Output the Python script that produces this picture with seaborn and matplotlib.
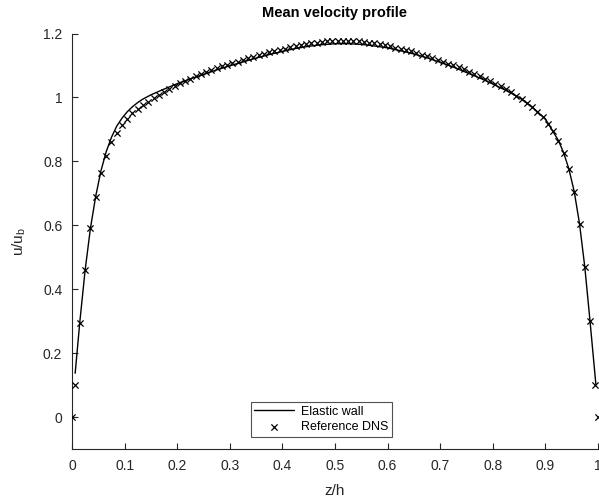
import matplotlib
matplotlib.use("Agg")
import matplotlib.pyplot as plt
import seaborn as sns
import pandas as pd

# Reference DNS samples
dns_z = [0.0, 0.005, 0.015, 0.025, 0.035, 0.045, 0.055, 0.065, 0.075, 0.085, 0.095,
         0.105, 0.115, 0.125, 0.135, 0.145, 0.155, 0.165, 0.175, 0.185, 0.195,
         0.205, 0.215, 0.225, 0.235, 0.245, 0.255, 0.265, 0.275, 0.285, 0.295,
         0.305, 0.315, 0.325, 0.335, 0.345, 0.355, 0.365, 0.375, 0.385, 0.395,
         0.405, 0.415, 0.425, 0.435, 0.445, 0.455, 0.465, 0.475, 0.485, 0.495,
         0.505, 0.515, 0.525, 0.535, 0.545, 0.555, 0.565, 0.575, 0.585, 0.595,
         0.605, 0.615, 0.625, 0.635, 0.645, 0.655, 0.665, 0.675, 0.685, 0.695,
         0.705, 0.715, 0.725, 0.735, 0.745, 0.755, 0.765, 0.775, 0.785, 0.795,
         0.805, 0.815, 0.825, 0.835, 0.845, 0.855, 0.865, 0.875, 0.885, 0.895,
         0.905, 0.915, 0.925, 0.935, 0.945, 0.955, 0.965, 0.975, 0.985, 0.995, 1.0]
dns_u = [0.0, 0.10, 0.295, 0.46, 0.592, 0.69, 0.765, 0.818, 0.86, 0.89, 0.915,
         0.934, 0.95, 0.963, 0.975, 0.987, 0.998, 1.008, 1.018, 1.027, 1.036,
         1.044, 1.052, 1.059, 1.066, 1.073, 1.079, 1.085, 1.091, 1.097, 1.102,
         1.107, 1.112, 1.117, 1.122, 1.127, 1.132, 1.137, 1.141, 1.145, 1.149,
         1.153, 1.157, 1.160, 1.163, 1.166, 1.169, 1.171, 1.173, 1.175, 1.176,
         1.177, 1.177, 1.177, 1.176, 1.175, 1.173, 1.171, 1.169, 1.166, 1.163,
         1.160, 1.156, 1.152, 1.148, 1.144, 1.139, 1.134, 1.129, 1.124, 1.118,
         1.112, 1.106, 1.100, 1.094, 1.088, 1.081, 1.074, 1.067, 1.059, 1.051,
         1.043, 1.035, 1.026, 1.016, 1.006, 0.995, 0.983, 0.970, 0.955, 0.938,
         0.918, 0.894, 0.865, 0.826, 0.775, 0.705, 0.605, 0.47, 0.30, 0.10, 0.0]

# Elastic wall simulation profile
ew_z = [0.006, 0.015, 0.025, 0.035, 0.045, 0.055, 0.065, 0.075, 0.085, 0.095,
        0.105, 0.115, 0.125, 0.135, 0.15, 0.175, 0.2, 0.225, 0.25, 0.275, 0.3,
        0.325, 0.35, 0.375, 0.4, 0.425, 0.45, 0.475, 0.5, 0.525, 0.55, 0.575,
        0.6, 0.625, 0.65, 0.675, 0.7, 0.725, 0.75, 0.775, 0.8, 0.825, 0.85,
        0.875, 0.9, 0.925, 0.935, 0.945, 0.955, 0.965, 0.975, 0.985, 0.996]
ew_u = [0.137, 0.30, 0.46, 0.59, 0.69, 0.77, 0.83, 0.875, 0.91, 0.935,
        0.955, 0.971, 0.984, 0.995, 1.008, 1.026, 1.043, 1.058, 1.072, 1.086, 1.099,
        1.111, 1.123, 1.134, 1.144, 1.153, 1.160, 1.165, 1.168, 1.168, 1.166, 1.161,
        1.155, 1.146, 1.136, 1.124, 1.110, 1.095, 1.078, 1.061, 1.042, 1.022, 1.000,
        0.970, 0.933, 0.865, 0.826, 0.775, 0.705, 0.605, 0.47, 0.30, 0.104]

x_ticks = [0, 0.1, 0.2, 0.3, 0.4, 0.5, 0.6, 0.7, 0.8, 0.9, 1]
x_tick_labels = ["0", "0.1", "0.2", "0.3", "0.4", "0.5", "0.6", "0.7", "0.8", "0.9", "1"]
y_ticks = [0, 0.2, 0.4, 0.6, 0.8, 1.0, 1.2]
y_tick_labels = ["0", "0.2", "0.4", "0.6", "0.8", "1", "1.2"]

sns.set_style("ticks")
plt.rcParams["font.family"] = ["Liberation Sans", "DejaVu Sans"]

axc = "#262626"
fig = plt.figure(figsize=(5.99, 5.0), dpi=100)
ax = fig.add_axes([0.1202, 0.102, 0.878, 0.831])

ew_df = pd.DataFrame({"z": ew_z, "u": ew_u})
dns_df = pd.DataFrame({"z": dns_z, "u": dns_u})

sns.lineplot(data=ew_df, x="z", y="u", ax=ax, color="black", linewidth=1.0,
             sort=False, label="Elastic wall")
sns.scatterplot(data=dns_df, x="z", y="u", ax=ax, marker="x", color="black",
                s=20, linewidth=0.9, label="Reference DNS", zorder=3)

ax.set_xlim(0, 1)
ax.set_ylim(-0.1, 1.2)
ax.set_xticks(x_ticks)
ax.set_xticklabels(x_tick_labels)
ax.set_yticks(y_ticks)
ax.set_yticklabels(y_tick_labels)
ax.tick_params(direction="in", length=4, width=0.8, colors=axc, labelsize=10,
               labelcolor=axc, pad=7)
for side in ["top", "right"]:
    ax.spines[side].set_visible(False)
for side in ["left", "bottom"]:
    ax.spines[side].set_color(axc)
    ax.spines[side].set_linewidth(0.8)

ax.set_xlabel("z/h", fontsize=11, color=axc, labelpad=8)
ax.set_ylabel("u/u$_\\mathregular{b}$", fontsize=11, color=axc, labelpad=11)
ax.set_title("Mean velocity profile", fontsize=10.5, fontweight="bold",
             color="black", pad=12)

leg = ax.legend(loc="lower center", bbox_to_anchor=(0.474, 0.03), frameon=True,
                fancybox=False, fontsize=9, handlelength=3.2, borderpad=0.3,
                labelspacing=0.25, handletextpad=0.5, borderaxespad=0)
leg.get_frame().set_edgecolor(axc)
leg.get_frame().set_linewidth(0.8)
for t in leg.get_texts():
    t.set_color("black")

fig.savefig("out.png", dpi=100, facecolor="white")
